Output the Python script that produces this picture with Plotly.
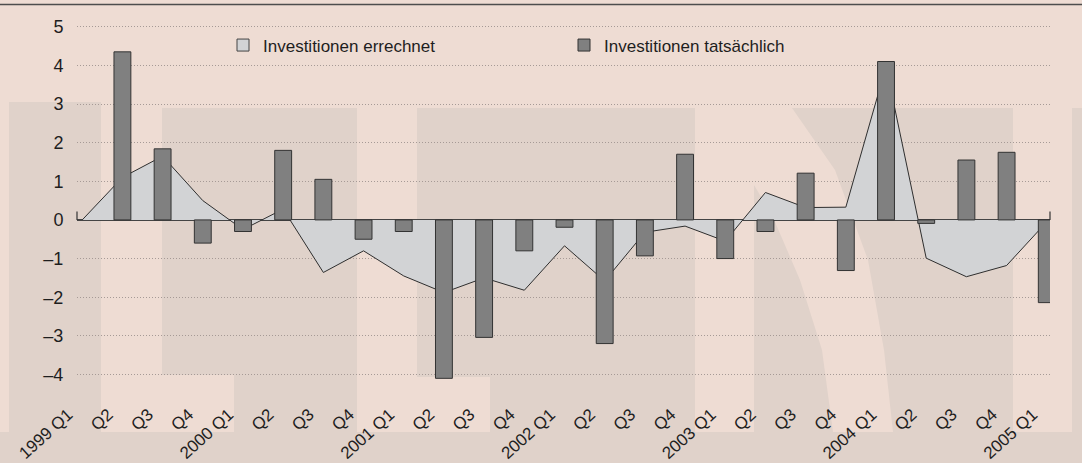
import plotly.graph_objects as go

# ---------------- data ----------------
quarters = ["1999 Q1", "Q2", "Q3", "Q4",
            "2000 Q1", "Q2", "Q3", "Q4",
            "2001 Q1", "Q2", "Q3", "Q4",
            "2002 Q1", "Q2", "Q3", "Q4",
            "2003 Q1", "Q2", "Q3", "Q4",
            "2004 Q1", "Q2", "Q3", "Q4",
            "2005 Q1"]
errechnet = [0.0, 1.1, 1.65, 0.5, -0.25, 0.28, -1.36, -0.8, -1.45, -1.88,
             -1.5, -1.82, -0.67, -1.58, -0.32, -0.16, -0.55, 0.71, 0.32, 0.33,
             3.97, -0.99, -1.47, -1.18, -0.05]
tatsaechlich = [None, 4.35, 1.84, -0.6, -0.3, 1.8, 1.05, -0.5, -0.3, -4.1,
                -3.04, -0.8, -0.19, -3.2, -0.93, 1.7, -1.0, -0.3, 1.21, -1.31,
                4.1, -0.09, 1.55, 1.75, -2.14]
ytick_vals = [-4, -3, -2, -1, 0, 1, 2, 3, 4, 5]
ytick_text = ["–4", "–3", "–2", "–1", "0", "1", "2", "3", "4", "5"]

# ---------------- layout geometry ----------------
W, H = 1082, 463
ML, MR, MT, MB = 77, 32, 19, 75
PW, PH = W - ML - MR, H - MT - MB
FONT = "Liberation Sans, Arial, sans-serif"
BASE = "#eedcd3"
DARK = "#e0d2ca"
AREA_FILL = "#d2d3d5"
BAR_FILL = "#808080"
CLEAR = "rgba(0,0,0,0)"


def px(x):
    return (x - ML) / PW


def py(y):
    return (H - MB - y) / PH


idx = list(range(len(quarters)))

fig = go.Figure()
# calculated investment: filled area (drawn on the lower subplot layer)
fig.add_trace(go.Scatter(
    x=idx, y=errechnet, mode="lines", fill="tozeroy",
    fillcolor=AREA_FILL, line=dict(color="#2e2e2e", width=1),
    name="Investitionen errechnet", showlegend=False))
# legend entry for the area (square box like the original)
fig.add_trace(go.Bar(
    x=[None], y=[None], name="Investitionen errechnet",
    marker=dict(color=AREA_FILL, line=dict(color="#444444", width=1)),
    xaxis="x2", yaxis="y2", showlegend=True))
# actual investment: bars on an overlaid axis so they sit above the area
fig.add_trace(go.Bar(
    x=idx, y=tatsaechlich, width=0.42,
    marker=dict(color=BAR_FILL, line=dict(color="#333333", width=1)),
    name="Investitionen tatsächlich", xaxis="x2", yaxis="y2"))

shapes = []
# background watermark blocks
rects = [(9, 102, 101, 463), (162, 108, 357, 375), (234, 375, 357, 463),
         (417, 108, 695, 377), (490, 377, 695, 463), (0, 432, 1082, 463),
         (754, 108, 1013, 463), (1072, 108, 1082, 463)]
for x0, y0, x1, y1 in rects:
    shapes.append(dict(type="rect", xref="paper", yref="paper",
                       x0=px(x0), x1=px(x1), y0=py(y1), y1=py(y0),
                       fillcolor=DARK, line=dict(width=0), layer="below"))
# light curved band of the watermark
pts = [(754, 108), (792, 108), (835, 170), (868, 260), (884, 350), (893, 432),
       (833, 432), (822, 350), (800, 280), (772, 215), (754, 185)]
path = "M " + " L ".join(f"{px(a):.5f},{py(b):.5f}" for a, b in pts) + " Z"
shapes.append(dict(type="path", xref="paper", yref="paper", path=path,
                   fillcolor=BASE, line=dict(width=0), layer="below"))
# top rule
shapes.append(dict(type="line", xref="paper", yref="paper",
                   x0=px(0), x1=px(W), y0=py(4.5), y1=py(4.5),
                   line=dict(color="#4d4d4d", width=1.5)))
# end stubs of the zero line
for xe in (0, 1):
    shapes.append(dict(type="line", xref="paper", yref="y",
                       x0=xe, x1=xe, y0=0, y1=0.22,
                       line=dict(color="#333333", width=1.2)))

xr = [-0.13, 24.08]
yr = [-4.35, 5.2]
fig.update_layout(
    width=W, height=H,
    margin=dict(l=ML, r=MR, t=MT, b=MB, pad=0, autoexpand=False),
    paper_bgcolor=BASE, plot_bgcolor=CLEAR,
    font=dict(family=FONT, size=18, color="#1e1e1e"),
    shapes=shapes,
    barmode="overlay",
    showlegend=True,
    legend=dict(orientation="h", x=px(223), xanchor="left",
                y=py(45.5), yanchor="middle",
                bgcolor=CLEAR, entrywidth=296,
                entrywidthmode="pixels", traceorder="normal",
                font=dict(family=FONT, size=17, color="#1e1e1e")),
    xaxis=dict(range=xr, tickvals=idx, ticktext=quarters,
               tickangle=-42, showgrid=False, zeroline=False, showline=False,
               ticks="outside", ticklen=9, tickcolor=CLEAR,
               ticklabelshift=-14, ticklabeloverflow="allow",
               automargin=False, tickfont=dict(size=17)),
    yaxis=dict(range=yr, tickvals=ytick_vals, ticktext=ytick_text,
               showgrid=True, griddash="1px,2px", gridcolor="#a69a96",
               gridwidth=1, zeroline=False, showline=False,
               ticks="outside", ticklen=9, tickcolor=CLEAR,
               automargin=False, tickfont=dict(size=18)),
    xaxis2=dict(range=xr, overlaying="x", visible=False, automargin=False),
    yaxis2=dict(range=yr, overlaying="y", showgrid=False, automargin=False,
                showticklabels=False, ticks="", showline=False,
                zeroline=True, zerolinecolor="#444444", zerolinewidth=1.5),
)

fig.write_html("out.html", config={"displayModeBar": False},
               post_script="document.body.style.margin='0';"
                           "document.body.style.overflow='hidden';")
